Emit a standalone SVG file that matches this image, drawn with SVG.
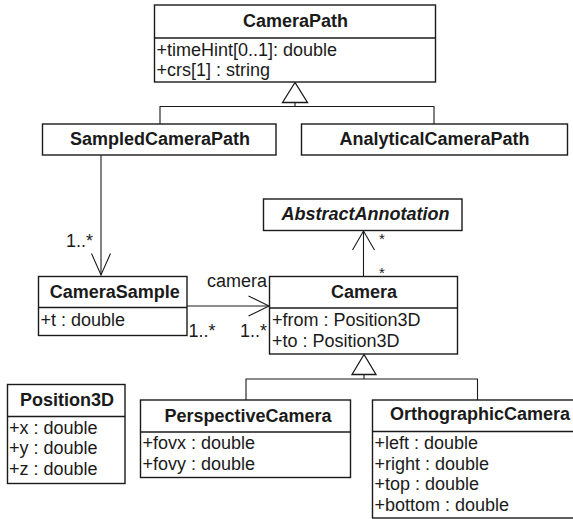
<svg xmlns="http://www.w3.org/2000/svg" width="573" height="519" viewBox="0 0 573 519">
<style>
.box{fill:#fff;stroke:#1a1a1a;stroke-width:1.4}
.div{stroke:#1a1a1a;stroke-width:1.4}
.ln{fill:none;stroke:#1a1a1a;stroke-width:1.1}
.tri{fill:#fff;stroke:#1a1a1a;stroke-width:1.3}
text{font-family:"Liberation Sans",Arial,sans-serif;font-size:18px;fill:#1a1a1a}
.t{font-weight:bold;text-anchor:middle}
.ti{font-weight:bold;font-style:italic;text-anchor:middle}
.st{font-size:15px}
</style>
<rect width="573" height="519" fill="#fff"/>
<g id="connectors">
  <polyline class="ln" points="160,124 160,106.5 434,106.5 434,124"/>
  <line class="ln" x1="295" y1="102.5" x2="295" y2="106.5"/>
  <polygon class="tri" points="295,82.5 282.5,102.5 307.5,102.5"/>
  <line class="ln" x1="101" y1="155" x2="101" y2="275"/>
  <polyline class="ln" points="91.5,253.5 101,275 110.5,253.5"/>
  <text x="66" y="247">1..*</text>
  <line class="ln" x1="187" y1="306" x2="269.5" y2="306"/>
  <polyline class="ln" points="248.5,296 269,306 248.5,316"/>
  <text x="207" y="287">camera</text>
  <text x="188.5" y="336.5">1..*</text>
  <text x="240" y="336.5">1..*</text>
  <line class="ln" x1="363.5" y1="276.5" x2="363.5" y2="231"/>
  <polyline class="ln" points="352.5,250 363.5,231 374.5,250"/>
  <text class="st" x="379" y="243.5">*</text>
  <text class="st" x="379" y="277.5">*</text>
  <polyline class="ln" points="246,400 246,379 477.5,379 477.5,400"/>
  <line class="ln" x1="364" y1="374.5" x2="364" y2="379"/>
  <polygon class="tri" points="364,354.5 352,374.5 376,374.5"/>
</g>
<g id="CameraPath">
  <rect class="box" x="154.5" y="5" width="281" height="77"/>
  <line class="div" x1="154.5" y1="38" x2="435.5" y2="38"/>
  <text class="t" x="295.5" y="27">CameraPath</text>
  <text x="156.5" y="55.5">+timeHint[0..1]: double</text>
  <text x="156.5" y="76">+crs[1] : string</text>
</g>
<g id="SampledCameraPath">
  <rect class="box" x="42.5" y="124" width="233.5" height="31"/>
  <text class="t" x="160" y="145">SampledCameraPath</text>
</g>
<g id="AnalyticalCameraPath">
  <rect class="box" x="301.5" y="124" width="266" height="31"/>
  <text class="t" x="434.5" y="145">AnalyticalCameraPath</text>
</g>
<g id="AbstractAnnotation">
  <rect class="box" x="263.5" y="199" width="198.5" height="31.5"/>
  <text class="ti" x="365.5" y="220">AbstractAnnotation</text>
</g>
<g id="CameraSample">
  <rect class="box" x="38.5" y="276.5" width="148.5" height="59"/>
  <line class="div" x1="38.5" y1="307.5" x2="187" y2="307.5"/>
  <text class="t" x="114.7" y="298">CameraSample</text>
  <text x="40.5" y="326">+t : double</text>
</g>
<g id="Camera">
  <rect class="box" x="269.5" y="276.5" width="188" height="77.5"/>
  <line class="div" x1="269.5" y1="308" x2="457.5" y2="308"/>
  <text class="t" x="364" y="297.5">Camera</text>
  <text x="272" y="325.5">+from : Position3D</text>
  <text x="272" y="346.5">+to : Position3D</text>
</g>
<g id="Position3D">
  <rect class="box" x="7.5" y="384.5" width="117.5" height="99"/>
  <line class="div" x1="7.5" y1="416.5" x2="125" y2="416.5"/>
  <text class="t" x="67" y="406">Position3D</text>
  <text x="9" y="433.5">+x : double</text>
  <text x="9" y="454">+y : double</text>
  <text x="9" y="474.5">+z : double</text>
</g>
<g id="PerspectiveCamera">
  <rect class="box" x="140.5" y="400" width="210" height="77.5"/>
  <line class="div" x1="140.5" y1="432" x2="350.5" y2="432"/>
  <text class="t" x="248" y="421.5">PerspectiveCamera</text>
  <text x="142.5" y="449">+fovx : double</text>
  <text x="142.5" y="469.5">+fovy : double</text>
</g>
<g id="OrthographicCamera">
  <rect class="box" x="372.5" y="400" width="210" height="118"/>
  <line class="div" x1="372.5" y1="431.5" x2="582.5" y2="431.5"/>
  <text class="t" x="480" y="420">OrthographicCamera</text>
  <text x="374.5" y="449">+left : double</text>
  <text x="374.5" y="469.5">+right : double</text>
  <text x="374.5" y="490">+top : double</text>
  <text x="374.5" y="510.5">+bottom : double</text>
</g>
</svg>
